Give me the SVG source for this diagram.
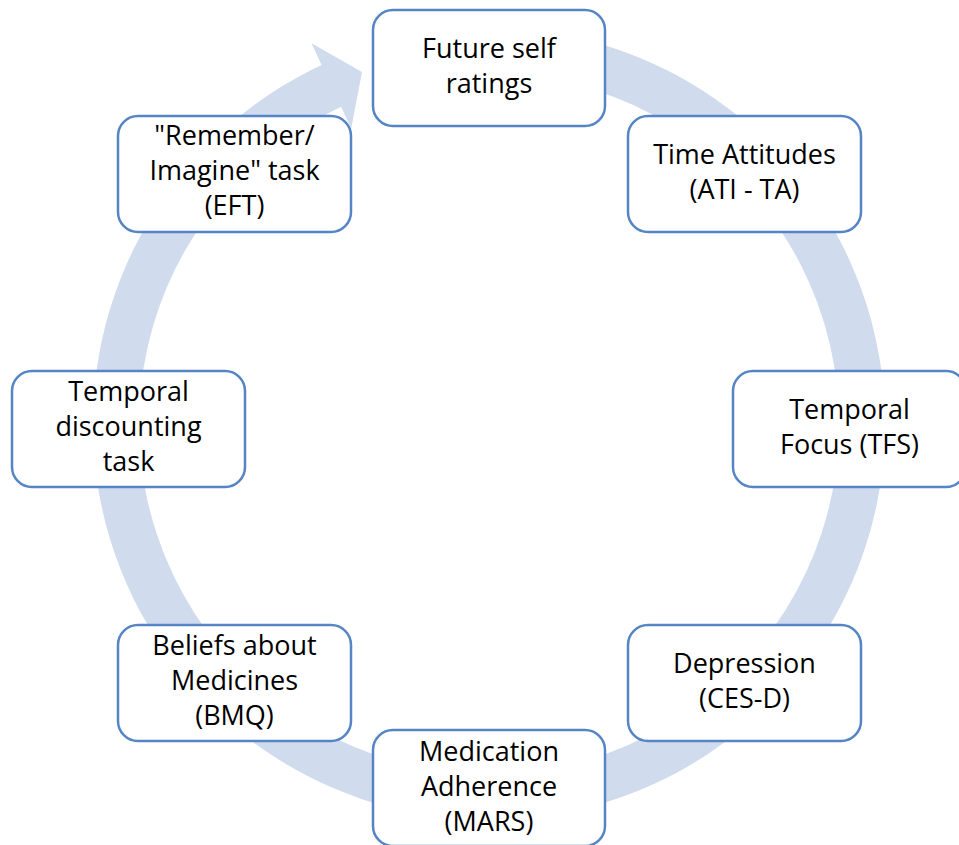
<svg xmlns="http://www.w3.org/2000/svg" width="959" height="845" viewBox="0 0 959 845">
  <style>
    .box { fill: #ffffff; stroke: #5585c5; stroke-width: 2.5; }
    .lbl { font-family: "Open Sans", "Noto Sans", "Liberation Sans", sans-serif; font-size: 27px; fill: #000000; text-anchor: middle; }
    .ring { fill: #d0dbee; stroke: none; }
  </style>
  <rect width="959" height="845" fill="#ffffff"/>

  <!-- circular arrow running clockwise behind the boxes -->
  <g id="connectors">
    <path class="ring" d="M 489 28 A 396 396 0 1 1 321.6 65.1 L 311.5 43.3 L 362 72 L 351.2 128.5 L 341.1 106.8 A 350 350 0 1 0 489 74 Z"/>
  </g>

  <g id="future-self">
    <rect class="box" x="373" y="10" width="232" height="116" rx="20"/>
    <text class="lbl" x="489" y="58">Future self</text>
    <text class="lbl" x="489" y="93">ratings</text>
  </g>

  <g id="time-attitudes">
    <rect class="box" x="628" y="116" width="233" height="116" rx="20"/>
    <text class="lbl" x="744.5" y="164">Time Attitudes</text>
    <text class="lbl" x="744.5" y="199">(ATI - TA)</text>
  </g>

  <g id="temporal-focus">
    <rect class="box" x="733" y="371" width="233" height="116" rx="20"/>
    <text class="lbl" x="849.5" y="419">Temporal</text>
    <text class="lbl" x="849.5" y="454">Focus (TFS)</text>
  </g>

  <g id="depression">
    <rect class="box" x="628" y="625" width="233" height="116" rx="20"/>
    <text class="lbl" x="744.5" y="673">Depression</text>
    <text class="lbl" x="744.5" y="708">(CES-D)</text>
  </g>

  <g id="medication-adherence">
    <rect class="box" x="373" y="730" width="232" height="116" rx="20"/>
    <text class="lbl" x="489" y="761">Medication</text>
    <text class="lbl" x="489" y="796">Adherence</text>
    <text class="lbl" x="489" y="831">(MARS)</text>
  </g>

  <g id="beliefs-medicines">
    <rect class="box" x="118" y="625" width="233" height="116" rx="20"/>
    <text class="lbl" x="234.5" y="655">Beliefs about</text>
    <text class="lbl" x="234.5" y="690">Medicines</text>
    <text class="lbl" x="234.5" y="725">(BMQ)</text>
  </g>

  <g id="temporal-discounting">
    <rect class="box" x="12" y="371" width="233" height="116" rx="20"/>
    <text class="lbl" x="128.5" y="401">Temporal</text>
    <text class="lbl" x="128.5" y="436">discounting</text>
    <text class="lbl" x="128.5" y="471">task</text>
  </g>

  <g id="remember-imagine">
    <rect class="box" x="118" y="116" width="233" height="116" rx="20"/>
    <text class="lbl" x="234.5" y="145">"Remember/</text>
    <text class="lbl" x="234.5" y="180">Imagine" task</text>
    <text class="lbl" x="234.5" y="215">(EFT)</text>
  </g>
</svg>
